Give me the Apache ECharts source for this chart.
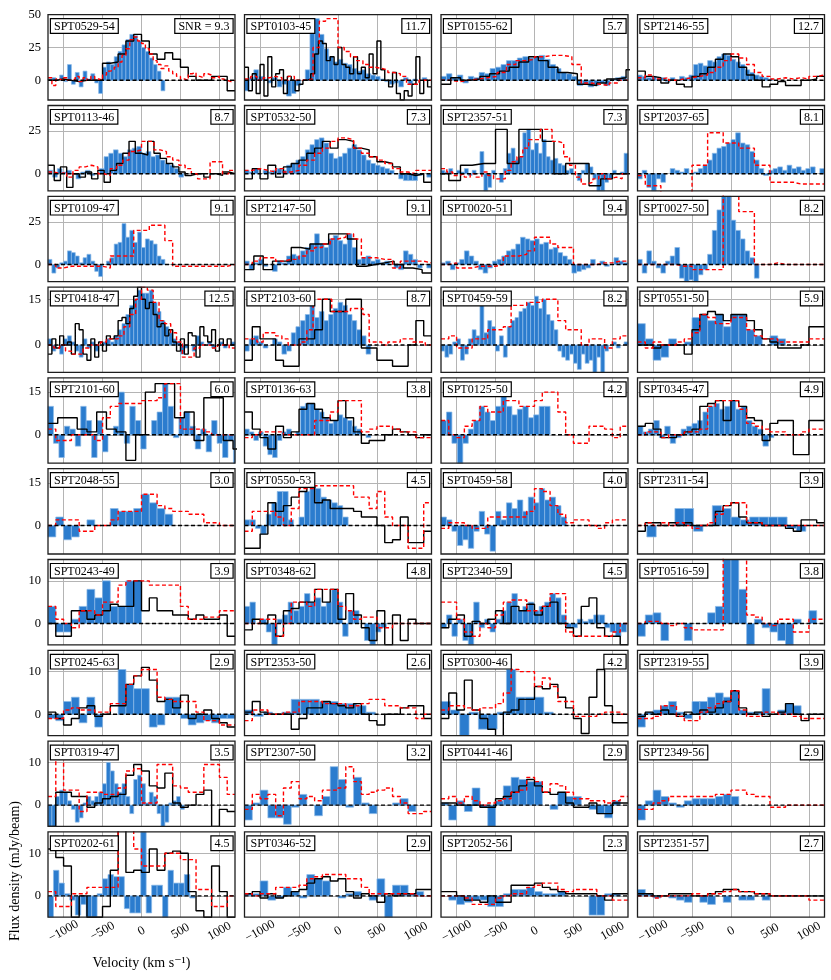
<!DOCTYPE html>
<html><head><meta charset="utf-8">
<script src="https://cdn.jsdelivr.net/npm/echarts@6/dist/echarts.min.js"></script>
<style>html,body{margin:0;padding:0;background:#fff}#c{width:831px;height:980px}</style>
</head><body><div id="c"></div>
<script>
// ---------------- DATA ----------------
const names = ['SPT0529-54','SPT0103-45','SPT0155-62','SPT2146-55',
'SPT0113-46','SPT0532-50','SPT2357-51','SPT2037-65',
'SPT0109-47','SPT2147-50','SPT0020-51','SPT0027-50',
'SPT0418-47','SPT2103-60','SPT0459-59','SPT0551-50',
'SPT2101-60','SPT0136-63','SPT0125-50','SPT0345-47',
'SPT2048-55','SPT0550-53','SPT0459-58','SPT2311-54',
'SPT0243-49','SPT0348-62','SPT2340-59','SPT0516-59',
'SPT0245-63','SPT2353-50','SPT0300-46','SPT2319-55',
'SPT0319-47','SPT2307-50','SPT0441-46','SPT2349-56',
'SPT0202-61','SPT0346-52','SPT2052-56','SPT2351-57'];
const snr = ['SNR = 9.3','11.7','5.7','12.7','8.7','7.3','7.3','8.1','9.1','9.1','9.4','8.2',
'12.5','8.7','8.2','5.9','6.0','3.8','4.2','4.9','3.0','4.5','4.0','3.9','3.9','4.8','4.5','3.8',
'2.9','2.6','4.2','3.9','3.5','3.2','2.9','2.9','4.5','2.9','2.3','2.7'];

const xTicks = [-1000, -500, 0, 500, 1000];
const rowYMin = [-15, -10, -10, -9, -10, -10, -5, -5, -5, -5];
const rowYMax = [50, 40, 40, 19, 20, 20, 15, 15, 15, 15];
const rowYTicks = [[0,25,50],[0,25],[0,25],[0,15],[0,15],[0,15],[0,10],[0,10],[0,10],[0,10]];

// channel grids (km/s): first left edge and channel width
const blueStart = Array(40).fill(-1200);
const blueWidth = [50,60,70,60, 60,60,50,60, 50,60,60,60, 50,60,50,100, 70,60,70,70, 100,70,70,120, 100,70,70,100, 100,120,120,100, 50,100,100,100, 70,100,100,100];
const blackStart = [-1200,-1200,-1200,-1200, -1200,-1200,-1250,null, null,-1200,null,null, -1200,-1200,null,-1200, -1200,-1200,null,-1200, null,-1200,null,-1200, -1200,-1200,-1200,null, -1200,-1200,-1200,-1200, -1200,null,-1200,null, -1200,-1200,-1200,-1200];
const blackWidth = [100,50,125,100, 80,100,150,null, null,120,null,null, 50,100,null,100, 125,100,null,100, null,100,null,100, 100,100,100,null, 100,100,100,100, 100,null,100,null, 100,100,100,100];
const redStart = Array(40).fill(-1200);
const redWidth = [50,80,120,100, 80,100,75,100, 100,100,100,100, 75,80,100,100, 100,100,100,100, 100,100,100,100, 100,100,100,100, 100,100,100,100, 100,100,100,100, 100,100,100,100];

// flux densities (mJy/beam)
const blueVals = [
[1,2,0,4,-1,12,-3,6,-5,7,1,5,-2,-10,10,14,12,18,22,27,31,35,34,30,25,22,17,12,7,-8],
[-8,2,8,3,1,-2,2,-5,-3,-12,-10,-4,0,8,40,47,35,24,18,14,16,13,12,9,7,8,5,4,3,1,-1,-3,-2,-5,2,-3,1,0,2,0],
[3,5,2,4,-2,3,2,6,5,9,10,12,15,15,17,18,17,18,19,16,12,9,6,5,3,-4,-3,-5,-4,-2,-4,1,2,3],
[4,3,2,3,1,2,-1,2,0,3,2,4,12,13,11,15,14,18,20,19,16,14,12,8,6,4,3,2,1],
[2,-2,3,1,2,0,-3,1,2,-1,0,3,10,12,14,12,10,14,15,16,12,13,10,11,8,6,5,3,-2],
[2,1,3,0,2,1,2,3,2,5,6,8,10,14,17,20,21,18,12,9,10,12,15,17,14,11,8,6,5,4,3,2,0,-3,-4,-4,-4,-1,0,-2],
[2,1,3,0,2,1,3,-1,2,0,13,-10,-8,2,0,-5,3,12,15,8,10,24,26,14,18,12,20,10,8,9,6,5,2,3,0,-4,2,6,4,-3,-11,-12,-5,-3,2,0,1,12],
[-3,2,-8,-10,-3,-5,0,3,2,1,3,0,1,3,5,8,12,15,16,18,20,24,18,17,13,8,3,-1,2,3,4,2,5,3,4,2,3,4,0,3],
[3,-5,-2,1,2,8,7,5,1,4,6,2,-4,-7,0,2,4,12,13,24,16,20,13,19,10,15,14,12,5,3],
[2,-3,1,3,-1,0,-4,2,1,5,6,5,8,10,12,18,12,10,15,17,14,12,18,10,3,4,5,2,3,1,2,0,-2,-3,8,6,3,-2,0,-2],
[1,2,-3,1,3,8,5,2,-3,-5,-2,2,3,5,8,9,12,16,15,14,15,12,13,9,10,7,5,3,-5,-4,-3,-2,3,0,2,-1,0,4,2,1],
[3,-5,8,2,-2,-5,2,5,10,-8,-10,-9,-10,-6,-3,6,20,32,45,42,26,20,15,8,4,-8,0],
[2,-2,0,-3,2,3,1,-2,-4,2,-1,1,-2,0,1,2,1,3,5,7,10,13,15,18,17,17,18,14,11,8,6,4,2,1,-3,-1,0,-2,3,1,0,1,-1,0,1,-1,0,1],
[-2,2,3,1,-1,0,2,1,-3,-2,4,6,8,10,14,9,11,8,10,12,14,13,10,8,5,3,-3,0],
[-2,-4,-3,1,2,-5,-3,2,5,3,14,4,8,6,-2,3,-4,6,8,9,11,12,14,13,16,12,15,10,8,5,-2,-4,-5,-3,-6,-8,-3,-6,-5,-9,-4,-9,-2,0,1,-1,0,1],
[7,2,-5,-4,2,0,1,9,10,8,10,6,10,10,5,3,0,3,2,0],
[10,-3,-8,3,2,-4,10,5,-8,5,-6,0,3,15,-3,10,5,-5,0,5,8,18,10,-1,6,8,3,-5,2,-6,5,-3,-8,-2,-10],
[2,1,-2,1,-4,-7,-8,-2,1,2,0,1,10,11,11,9,8,6,4,5,7,6,5,3,2,0,-1,0],
[5,8,-3,-10,-3,2,5,10,8,5,10,14,10,7,9,10,6,7,10,10],
[3,1,2,5,-1,3,-3,-1,2,3,4,5,8,10,11,9,10,12,9,10,5,3,2,-4,-1],
[-4,3,-5,-4,0,2,0,0,6,5,5,6,11,8,6,4,0],
[2,2,-1,-3,4,8,12,12,2,0,3,12,14,13,10,9,8,7,3],
[3,2,-2,-7,-5,-8,-2,5,-3,-9,5,2,8,6,9,5,10,8,13,9,10,7,3],
[0,-4,0,0,6,6,-2,0,7,6,3,2,3,3,3,3,-1,-2],
[4,-2,-2,1,4,8,6,10,4,4,10,10],
[4,5,0,1,-2,-5,1,2,5,3,4,7,5,6,4,5,8,5,-3,3,3,0,-4,-5,-2,-1,0],
[-1,2,-3,1,-4,-5,5,-1,1,-2,1,3,5,7,3,4,5,3,4,5,7,6,2,-1,-1,1,0.5,1,2,2,-1,-2,-3,-2],
[-3,2,2.5,-4,0,0,-4,0,0,2.5,4,18,18,8,-5,1,-1,-2,-4,-5,1,0,3,0],
[-1,-1.5,3,4,-2,4,-3,0,0,10.5,7,6,6,-3,-2.5,4,4,-1,-2.5,-2,-1.5,-2,-1,-1],
[1,-0.5,0.5,0,0.5,3.5,3.5,3.5,3,3,2.5,2.5,2,0.5],
[3,1,-5,0.5,-3.5,-3.5,0.5,10.5,4,4,4,0.5],
[-3,0.5,1,2,3,0.5,-1,3,3,4,5,4,5.5,1,0.5,0.5,6,0,1,2.5,2,0,0,0],
[-5,-5,2,3.5,3,1,-1,-4,-3,0.5,2,1,2,3,5,10,8,5,3,5,2,-2,6,7,5,0.5,3,2,-2,-5,-4,0.5,1,2,-1],
[-3.5,0.5,3.5,-3,-3,-4.5,-0.5,2.5,0,-2.5,2,9,6,-0.5,6.5,0.5,-2,0,0,0.5,1.5,-1.5,0,0],
[0.5,-3.5,1,-1.5,4,-0.5,-5,1,4.5,6.5,6,5.5,5.5,0,-1,3,2,2,0,-1,-2,-3,1,0],
[-3.5,1,3.5,2,0.5,-0.5,1,1.5,1.5,1.5,2,2.5,2],
[-5,6,3,0.5,-1,-4.5,-2,-5,-5,0.5,4,5,4.5,4.5,-3,-4,-4,18,-4,2.5,2.5,-5,6,3,3,5,-0.5],
[0.5,0.5,3.5,-1,-0.5,2,1,-0.5,5,4,3.5,0,-0.5,0.5,1,0,-1,4,-5,2.5,2.5,0.5,1,0],
[0,-1,-2,-1.5,-1,-1,-2.5,-2.5,0.5,1.5,1.5,2,1,0.5,0.5,1,0,0,0,-4.5,-4.5,0.5,0.5,0],
[1.5,0.5,-0.5,0,-0.5,-1,-1.5,0,-1.5,-2,0,-1.5,0,-1,-1,0,-1]
];

const blackVals = [
[0,1,0,-1,0,0,0,13,14,20,30,35,30,20,16,21,16,10,3,0,0,3,3,-8],
[10,-8,5,-10,12,-12,18,-5,5,8,-10,3,0,-8,-3,0,1,5,20,30,28,15,18,12,25,12,10,5,18,5,10,2,20,5,30,8,0,-5,6,-10,-15,-8,-12,-3,18,-10,0,-5],
[-3,2,0,1,3,5,7,10,14,18,15,10,6,5,-3,-4,-2,1,2,8],
[7,3,2,-2,0,-3,-5,3,5,10,16,20,18,10,4,0,-5,-3,-1,-4,-4,0,1,3],
[5,-4,4,-8,0,-2,1,-3,2,-5,2,6,12,19,12,11,19,12,9,6,4,1,-1,0,0,-2,0,-1,1,0],
[-3,3,-3,5,-2,4,6,8,12,15,19,15,20,19,15,14,10,7,6,4,0,-1,0,-5],
[0,-4,5,6,6,26,6,26,26,19,0,6,6,-7,-3,0,0],
null,
null,
[-3,5,-3,2,2,10,9,12,12,18,18,15,-1,0,1,2,0,-2,-3,-5],
null,
null,
[-3,2,-1,3,0,1,-3,7,5,-3,-5,2,-4,1,-2,3,2,3,8,9,7,12,16,19,15,12,14,10,6,7,3,5,1,-2,2,-3,4,3,-4,6,3,1,5,-2,2,0,2,0],
[-5,6,2,2,-5,-7,-7,2,2,5,15,11,11,15,15,-1,-1,-5,-5,-7,-7,0,8,3],
null,
[0,0,-1,0,0,0,-3,5,10,11,10,8,10,10,8,5,2,1,-1,-1,-1,0,6,6],
[4,6,6,2,1,8,2,1,-9,0,15,18,18,6,8,-2,13,13,-2,-5],
[8,2,-1,-5,3,-1,1,9,11,9,6,5,12,6,1,-3,-2,-2,0,2,1,0,-1,0],
null,
[3,4,2,-1,-1,0,1,2,10,11,12,5,12,10,6,5,-2,4,5,5,-7,-7,5,5],
null,
[-8,-8,-3,8,5,7,10,12,14,8,9,6,6,6,5,3,3,0,-6,-5,3,-6,-6,-2],
null,
[-2,1,1,0,1,0,1,0,0,0,5,7,8,3,1,1,0,0,0,-1,-2,2,2,1],
[0,-3,-3,3,3,1,2,3,4.5,4,4,10,3,6,3,3,2,2,1,2,1,1,2,-3],
[-1.5,1,0,2,-3,3,3.5,5,5,8,5,8,1,7,2,-1,-4,3,-5,2,-4,1,0,0],
[-1,1,2,-3,0.5,0,1,3,0,4,3,4.5,2,4,5,0,-1,-3,4,6,-1,-3,-3,-5],
null,
[0.5,-1,-2.5,-1,1.5,2,-0.5,0,2,2,7,9,11,8,3,3.5,1.5,4.5,-1,0,1,-1,-2,-3],
[0.5,3,0.5,0,0,0,-3.5,-1,1.5,1.5,3,2.5,2,1.5,2.5,0,-1.5,-2.5,0,0,1.5,2,2,-1],
[-1,5,1,8,1,-1,-3.5,-5,0.5,1,3.5,3.5,6.5,6,7,4,1.5,-1,-4.5,4,10.5,2,-2,-2],
[-0.5,0.5,0,1,0,-0.5,0.5,0,1,0.5,1.5,3,5.5,1.5,0,0.5,-0.5,0,0.5,2.5,0,-1.5,0,0],
[-5,3,3,2,2,-0.5,0.5,1.5,2,2.5,7,9.5,8,4.5,4,7.5,0.5,-0.5,0,2.5,3.5,-5,-1,-1.5],
null,
[0.5,0.5,0,0,0,-0.5,-0.5,1.5,2,3,4.5,6,4.5,3,2.5,3,0.5,-0.5,-0.5,0.5,-2,-2,0.5,0.5],
null,
[11,9,7,-5,0,-5,-5,-2.5,6,16,5.5,6,5.5,11,6,10,10.5,10,1,-3.5,-5,7,1,-5],
[0.5,1,-0.5,0.5,-0.5,0,1,1.5,3,4,4.5,3.5,4,1,-0.5,0.5,0,-1.5,0.5,0,0.5,0.5,1.5,1.5],
[1,1,0,-1,-1,-1.5,0,-1.5,-1.5,2.5,2.5,2.5,3,2,1.5,1,0.5,0.5,0.5,0.5,0,-1,0.5,0.5],
[0.5,0.5,0,0,0.5,0.5,0.5,0,0,0.5,1,1.5,1.5,1,1,0.5,0.5,0,0,0,0,0,0,0]
];

const redVals = [
[2,-4,1,0,2,0,1,3,-1,2,0,3,1,0,4,7,8,10,14,19,24,31,33,30,28,24,20,15,12,9,11,7,5,3,1,0,5,6,3,2,5,4,2,3,1,0,-1,0],
[1,3,0,2,3,2,0,3,0,0,1,25,45,47,47,25,22,18,15,12,10,9,8,6,5,3,-3,-3,0,0],
[0,-1,0,1,2,3,6,12,15,16,18,19,19,18,12,-2,-3,-4,-2,0],
[2,4,1,2,0,1,2,3,4,6,10,15,20,17,12,6,3,1,2,1,2,1,3,4],
[1,0,1,-2,2,4,5,4,0,-1,3,5,8,13,14,19,19,14,13,10,8,5,3,0,-3,-3,7,7,0,2],
[2,3,2,1,3,1,2,5,8,12,15,19,21,20,15,12,10,8,6,3,1,0,2,2],
[3,1,-1,0,-2,0,-2,1,-1,-3,-3,2,7,10,15,20,20,26,26,19,18,10,5,-2,-6,-5,-3,0,-3,-2,-3,0],
[-1,-7,-7,-15,-15,-15,-15,5,5,24,24,18,18,15,15,5,5,-5,-5,-5,-6,-6,-6,-6],
[0,-2,-1,-1,-1,-1,-1,-2,5,5,5,20,20,23,23,14,-1,-1,-1,-1,-1,-1,-1,0],
[0,2,4,4,2,3,3,5,8,10,12,15,16,18,15,4,4,3,3,-2,2,2,2,1],
[0,1,-2,-2,-1,-1,-1,0,5,5,6,8,16,16,12,10,10,0,0,0,1,1,2,2],
[0,0,0,0,0,-1,-1,-3,-3,-3,-3,45,45,31,31,0,0,1,0,0,0,0,0,0],
[0,-1,0,-2,-3,-3,-1,0,0,1,2,2,3,6,10,15,19,18,14,8,7,4,1,-4,-4,-1,0,0,-1,0,0,-1],
[2,2,1,4,4,3,2,0,0,1,5,15,15,15,11,11,11,12,12,10,1,1,0,1,1,2,2,1,1,0],
[2,3,-1,-1,2,2,5,5,6,13,13,14,14,15,15,8,5,5,0,2,2,-1,2,3],
[1,-1,1,0,0,1,2,4,10,9,7,7,9,9,5,3,2,2,1,1,1,1,2,2],
[2,-2,-2,0,0,0,-2,6,10,11,11,11,12,12,13,18,18,2,2,2,1,0,0,0],
[-1,0,1,1,1,0,0,0,0,5,5,8,12,12,12,1,2,3,3,2,1,1,-1,-1],
[5,0,-1,3,5,10,8,8,12,12,10,10,12,15,15,8,0,-3,-3,3,3,2,-1,3],
[0,1,1,-1,0,0,1,1,2,10,12,12,12,9,4,3,2,1,1,0,0,1,2,2],
[0,2,2,2,-2,-2,0,0,2,5,5,5,11,11,7,6,5,5,4,4,1,1,0,0],
[-2,5,5,5,3,0,6,13,13,14,14,14,14,14,10,10,6,12,3,0,0,-8,-8,8],
[-1,1,1,0,-1,-1,3,3,3,3,3,5,13,12,7,4,1,2,2,0,-1,1,2,2],
[0,1,0,1,0,1,0,-1,0,1,4,7,8,8,1,1,0,0,0,0,0,0,0,0],
[4,1,0,-1,3,3,2,5,5,9,10,10,10,9,9,9,9,4,1,1,1.5,1.5,3,3],
[0,0,1,1,-3,0,5,5,4,8,8,8,4,3,1,1.5,1.5,-1,-1,0,0,0,0,0],
[5,5,1,-2,-3,0,-1,2,5,5.5,5.5,3,3,4,7,7,-2,-3,-3,-3,-3,-3,-2,0],
[0,0.5,0.5,0,-0.5,0,-1,-1.5,-1.5,-1.5,-1.5,18,18,18,2,1.5,0,-0.5,1,1,-2,-2,1,1],
[-1,-1,1,1.5,1,1,0.5,0.5,2.5,2.5,7,9,10.5,10.5,4,3.5,3,3,3,0.5,-1.5,-1.5,-2.5,-2.5],
[-1.5,1,1,0,0,0.5,0.5,3,3,3,2.5,2.5,2.5,2,2,2.5,3.5,3.5,2,2,1.5,1.5,-1,0],
[1,2,2,1.5,1,1.5,1.5,2.5,5,10.5,10,10,6.5,8.5,6.5,3,3,-0.5,-0.5,-0.5,0,0.5,0.5,0],
[-1,-1,-0.5,2,2,-0.5,-1.5,-1.5,0.5,1.5,2.5,3,5.5,1,-0.5,-0.5,0.5,0.5,0,0,-0.5,-1,-1,-1],
[2,11,3.5,3.5,-1.5,3,3,2.5,2.5,4,8,8.5,0.5,0.5,9.5,9.5,4.5,4,3,3,9.5,9.5,6.5,2.5],
[-1,2.5,1.5,2.5,-2.5,4,5.5,1.5,2,1,3.5,3.5,4,9,5.5,2.5,3,3.5,4,2,0.5,-2,-2,-1.5],
[1.5,2,0.5,2,1,0,0.5,1,1.5,3,3.5,6.5,5.5,3,5,4.5,3,1.5,1.5,1,1,0.5,1,2],
[-1,-1,0.5,1,2,2,2,2,2,2,2.5,2.5,3.5,3.5,2.5,2,2,-0.5,-0.5,0,0,0,0,0],
[1,-2.5,-2.5,0.5,0.5,2,2,2,2,16,16,11,7,7,7,10,10,8.5,8.5,1.5,1.5,-2.5,-2.5,0],
[0.5,0,0.5,0.5,2,2,2,2.5,4,4.5,5,5,5,4,4,2,0.5,0.5,0.5,0.5,0.5,0.5,0,0],
[0,0,0,-0.5,-2,-2,-2,-0.5,0,0.5,0.5,2,2.5,3,3,1.5,1,1.5,1.5,1.5,0,0,-1,-1],
[0,0,-0.5,0,0,0,0,0.5,0,0.5,0.5,1,1.5,1,1,0.5,0.5,0,0,0,0,0,-1,-1]
];

// ---------------- LAYOUT / STYLE ----------------
const COL_LEFT = [48, 244.5, 441, 637.5];
const PW = 187, PH = 85.3, ROW_TOP0 = 14.7, ROW_STEP = 90.8;
const XMIN = -1200, XMAX = 1200;
const FONT = '"Liberation Serif", "DejaVu Serif", serif';
const BLUE = '#2b7cce', BLUE_EDGE = 'rgba(140,185,232,0.9)';

function stepData(start, w, vals) {
  const pts = vals.map((v, k) => [start + k * w, v]);
  pts.push([start + vals.length * w, vals[vals.length - 1]]);
  return pts;
}
function barData(start, w, vals) {
  return vals.map((v, k) => [start + k * w, start + (k + 1) * w, v]);
}
function renderBar(params, api) {
  const a = api.coord([api.value(0), api.value(2)]);
  const b = api.coord([api.value(1), 0]);
  const cs = params.coordSys;
  const r = echarts.graphic.clipRectByRect(
    {x: Math.min(a[0], b[0]), y: Math.min(a[1], b[1]), width: Math.abs(b[0] - a[0]), height: Math.abs(b[1] - a[1])},
    {x: cs.x, y: cs.y, width: cs.width, height: cs.height});
  if (!r || r.height <= 0) return null;
  return {type: 'rect', shape: r, style: {fill: BLUE, stroke: BLUE_EDGE, lineWidth: 0.8}};
}
const minus = v => String(v).replace('-', '\u2212');

const grid = [], xAxis = [], yAxis = [], series = [], graphic = [];
names.forEach((nm, i) => {
  const r = Math.floor(i / 4), c = i % 4;
  const left = COL_LEFT[c], top = ROW_TOP0 + r * ROW_STEP;
  const yt = rowYTicks[r];
  grid.push({left: left, top: top, width: PW, height: PH});
  xAxis.push({
    gridIndex: i, type: 'value', min: XMIN, max: XMAX,
    axisLine: {show: false},
    axisTick: {show: true, inside: true, length: 4, customValues: xTicks, lineStyle: {color: '#000', width: 1}},
    axisLabel: {show: r === 9, customValues: xTicks, rotate: 30, align: 'center', verticalAlign: 'middle', margin: 14,
      formatter: minus, fontFamily: FONT, fontSize: 12.5, color: '#000'},
    splitLine: {show: false}
  });
  yAxis.push({
    gridIndex: i, type: 'value', min: rowYMin[r], max: rowYMax[r],
    axisLine: {show: false},
    axisTick: {show: true, inside: true, length: 4, customValues: yt, lineStyle: {color: '#000', width: 1}},
    axisLabel: {show: c === 0, customValues: yt, margin: 7, fontFamily: FONT, fontSize: 12.5, color: '#000'},
    splitLine: {show: false}
  });
  // grid lines (under the data)
  series.push({
    type: 'line', xAxisIndex: i, yAxisIndex: i, data: [[XMIN, 0], [XMAX, 0]], showSymbol: false,
    lineStyle: {opacity: 0}, silent: true, z: 1,
    markLine: {silent: true, z: 1, symbol: ['none', 'none'], label: {show: false}, animation: false,
      lineStyle: {color: '#b4b4b4', width: 1, type: 'solid'},
      data: xTicks.map(v => ({xAxis: v})).concat(yt.map(v => ({yAxis: v})))}
  });
  // blue channel bars
  series.push({
    type: 'custom', xAxisIndex: i, yAxisIndex: i, renderItem: renderBar, z: 2,
    encode: {x: [0, 1], y: 2}, data: barData(blueStart[i], blueWidth[i], blueVals[i])
  });
  // zero line
  series.push({
    type: 'line', xAxisIndex: i, yAxisIndex: i, data: [[XMIN, 0], [XMAX, 0]], showSymbol: false, z: 6, silent: true,
    lineStyle: {color: '#000', width: 1.4, type: [4, 2.5]}
  });
  if (blackVals[i]) {
    series.push({
      type: 'line', step: 'end', xAxisIndex: i, yAxisIndex: i, showSymbol: false, z: 4,
      data: stepData(blackStart[i], blackWidth[i], blackVals[i]),
      lineStyle: {color: '#000', width: 1.4}
    });
  }
  series.push({
    type: 'line', step: 'end', xAxisIndex: i, yAxisIndex: i, showSymbol: false, z: 5,
    data: stepData(redStart[i], redWidth[i], redVals[i]),
    lineStyle: {color: '#ff0000', width: 1.4, type: [4, 2.5]}
  });
  // frame
  graphic.push({type: 'rect', z: 100, silent: true,
    shape: {x: left, y: top, width: PW, height: PH},
    style: {fill: 'none', stroke: '#1e1e1e', lineWidth: 1.3}});
  // labels
  const boxStyle = {font: '12px ' + FONT, fill: '#000', backgroundColor: '#fff', borderColor: '#000',
    borderWidth: 1.2, padding: [1.5, 3, 0, 3], lineHeight: 12, verticalAlign: 'top'};
  graphic.push({type: 'text', z: 101, silent: true, x: left + 3, y: top + 4.6,
    style: Object.assign({text: nm, align: 'left'}, boxStyle)});
  graphic.push({type: 'text', z: 101, silent: true, x: left + PW - 2.5, y: top + 4.6,
    style: Object.assign({text: snr[i], align: 'right'}, boxStyle)});
});
// axis titles
graphic.push({type: 'text', z: 101, silent: true, x: COL_LEFT[0] + PW / 2, y: 963,
  style: {text: 'Velocity (km s\u207B\u00B9)', font: '14px ' + FONT, fill: '#000', align: 'center', verticalAlign: 'middle'}});
graphic.push({type: 'text', z: 101, silent: true, x: 15, y: 871, rotation: Math.PI / 2,
  style: {text: 'Flux density (mJy/beam)', font: '14px ' + FONT, fill: '#000', align: 'center', verticalAlign: 'middle'}});

const chart = echarts.init(document.getElementById('c'), null, {renderer: 'canvas'});
chart.setOption({animation: false, backgroundColor: '#fff', grid, xAxis, yAxis, series, graphic});
</script></body></html>
